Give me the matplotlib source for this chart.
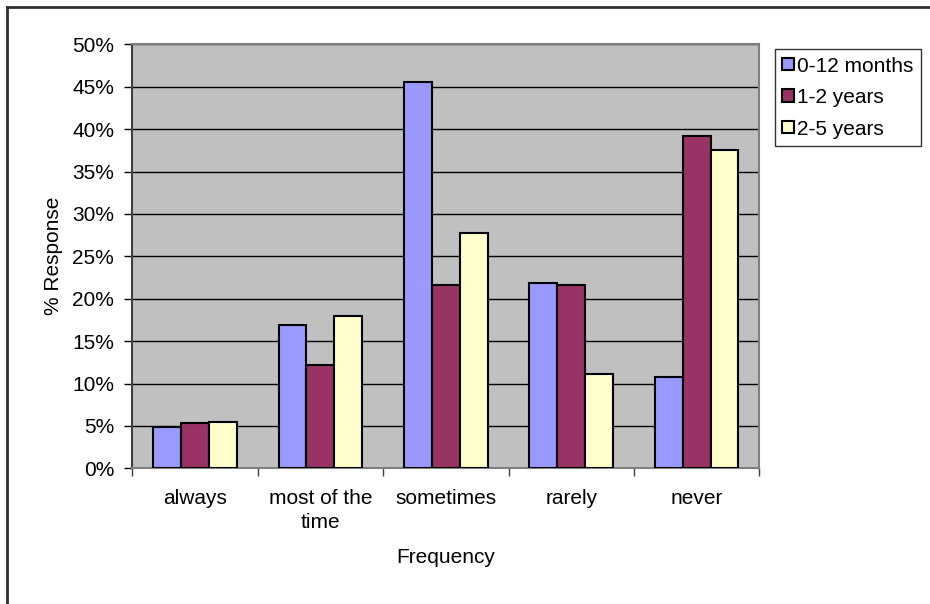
import numpy as np
import matplotlib.pyplot as plt
from matplotlib.patches import Patch
from matplotlib.lines import Line2D
from matplotlib.ticker import PercentFormatter

plt.rcParams['font.family'] = ['Liberation Sans', 'DejaVu Sans']

# response share (%) per frequency answer, for each age group
categories = ["always", "most of the\ntime", "sometimes", "rarely", "never"]
series_names = ["0-12 months", "1-2 years", "2-5 years"]
months_0_12 = [4.9, 16.9, 45.6, 21.8, 10.8]
years_1_2 = [5.4, 12.2, 21.6, 21.6, 39.2]
years_2_5 = [5.5, 18.0, 27.8, 11.1, 37.5]
y_ticks = np.arange(0, 51, 5)

colors = ["#9999FF", "#993366", "#FFFFCC"]
font_size = 15

fig = plt.figure(figsize=(9.3, 6.04), dpi=100)
ax = fig.add_axes([132.3 / 930, 1 - 468.3 / 604, 627 / 930, 424 / 604])
ax.set_facecolor("#C0C0C0")

x = np.arange(len(categories))
bar_w = 1 / 4.5
for i, (vals, name, col) in enumerate(zip([months_0_12, years_1_2, years_2_5], series_names, colors)):
    ax.bar(x + (i - 1) * bar_w, vals, width=bar_w, color=col, edgecolor="black",
           linewidth=1.5, label=name, zorder=3)

ax.set_xlim(-0.5, len(categories) - 0.5)
ax.set_ylim(0, 50)
ax.set_yticks(y_ticks)
ax.yaxis.set_major_formatter(PercentFormatter(decimals=0))
ax.yaxis.grid(True, color="black", linewidth=1, zorder=1)

# category boundaries get the tick marks, centres get the labels
ax.set_xticks(np.arange(-0.5, len(categories), 1.0))
ax.set_xticklabels([])
ax.set_xticks(x, minor=True)
ax.set_xticklabels(categories, minor=True, fontsize=font_size, linespacing=1.35)
ax.tick_params(axis="x", which="minor", length=0, pad=15)
ax.tick_params(axis="x", which="major", length=6, width=1, color="#404040")
ax.tick_params(axis="y", length=6, width=1, pad=7, labelsize=font_size, color="black")

for side in ["top", "right", "bottom"]:
    ax.spines[side].set_color("#808080")
    ax.spines[side].set_linewidth(1.5)
ax.spines["left"].set_color("#404040")
ax.spines["left"].set_linewidth(1.5)

ax.set_xlabel("Frequency", fontsize=font_size, labelpad=11)
ax.set_ylabel("% Response", fontsize=font_size, labelpad=7)

handles = [Patch(facecolor=c, edgecolor="black", linewidth=1.5) for c in colors]
leg = fig.legend(handles, series_names, loc="upper left",
                 bbox_to_anchor=(775 / 930, 1 - 49.3 / 604), fontsize=font_size,
                 frameon=True, fancybox=False, edgecolor="black",
                 handlelength=0.55, handleheight=0.55, handletextpad=0.15,
                 labelspacing=0.6, borderpad=0.35, borderaxespad=0)
leg.get_frame().set_linewidth(1)

# outer chart frame, visible only on left and top
fig.add_artist(Line2D([6.5 / 930, 6.5 / 930], [0, 1 - 7 / 604], color="#303030", linewidth=2,
                      transform=fig.transFigure))
fig.add_artist(Line2D([6.5 / 930, 1], [1 - 7 / 604, 1 - 7 / 604], color="#303030", linewidth=2,
                      transform=fig.transFigure))

fig.savefig("out.png", dpi=100)
